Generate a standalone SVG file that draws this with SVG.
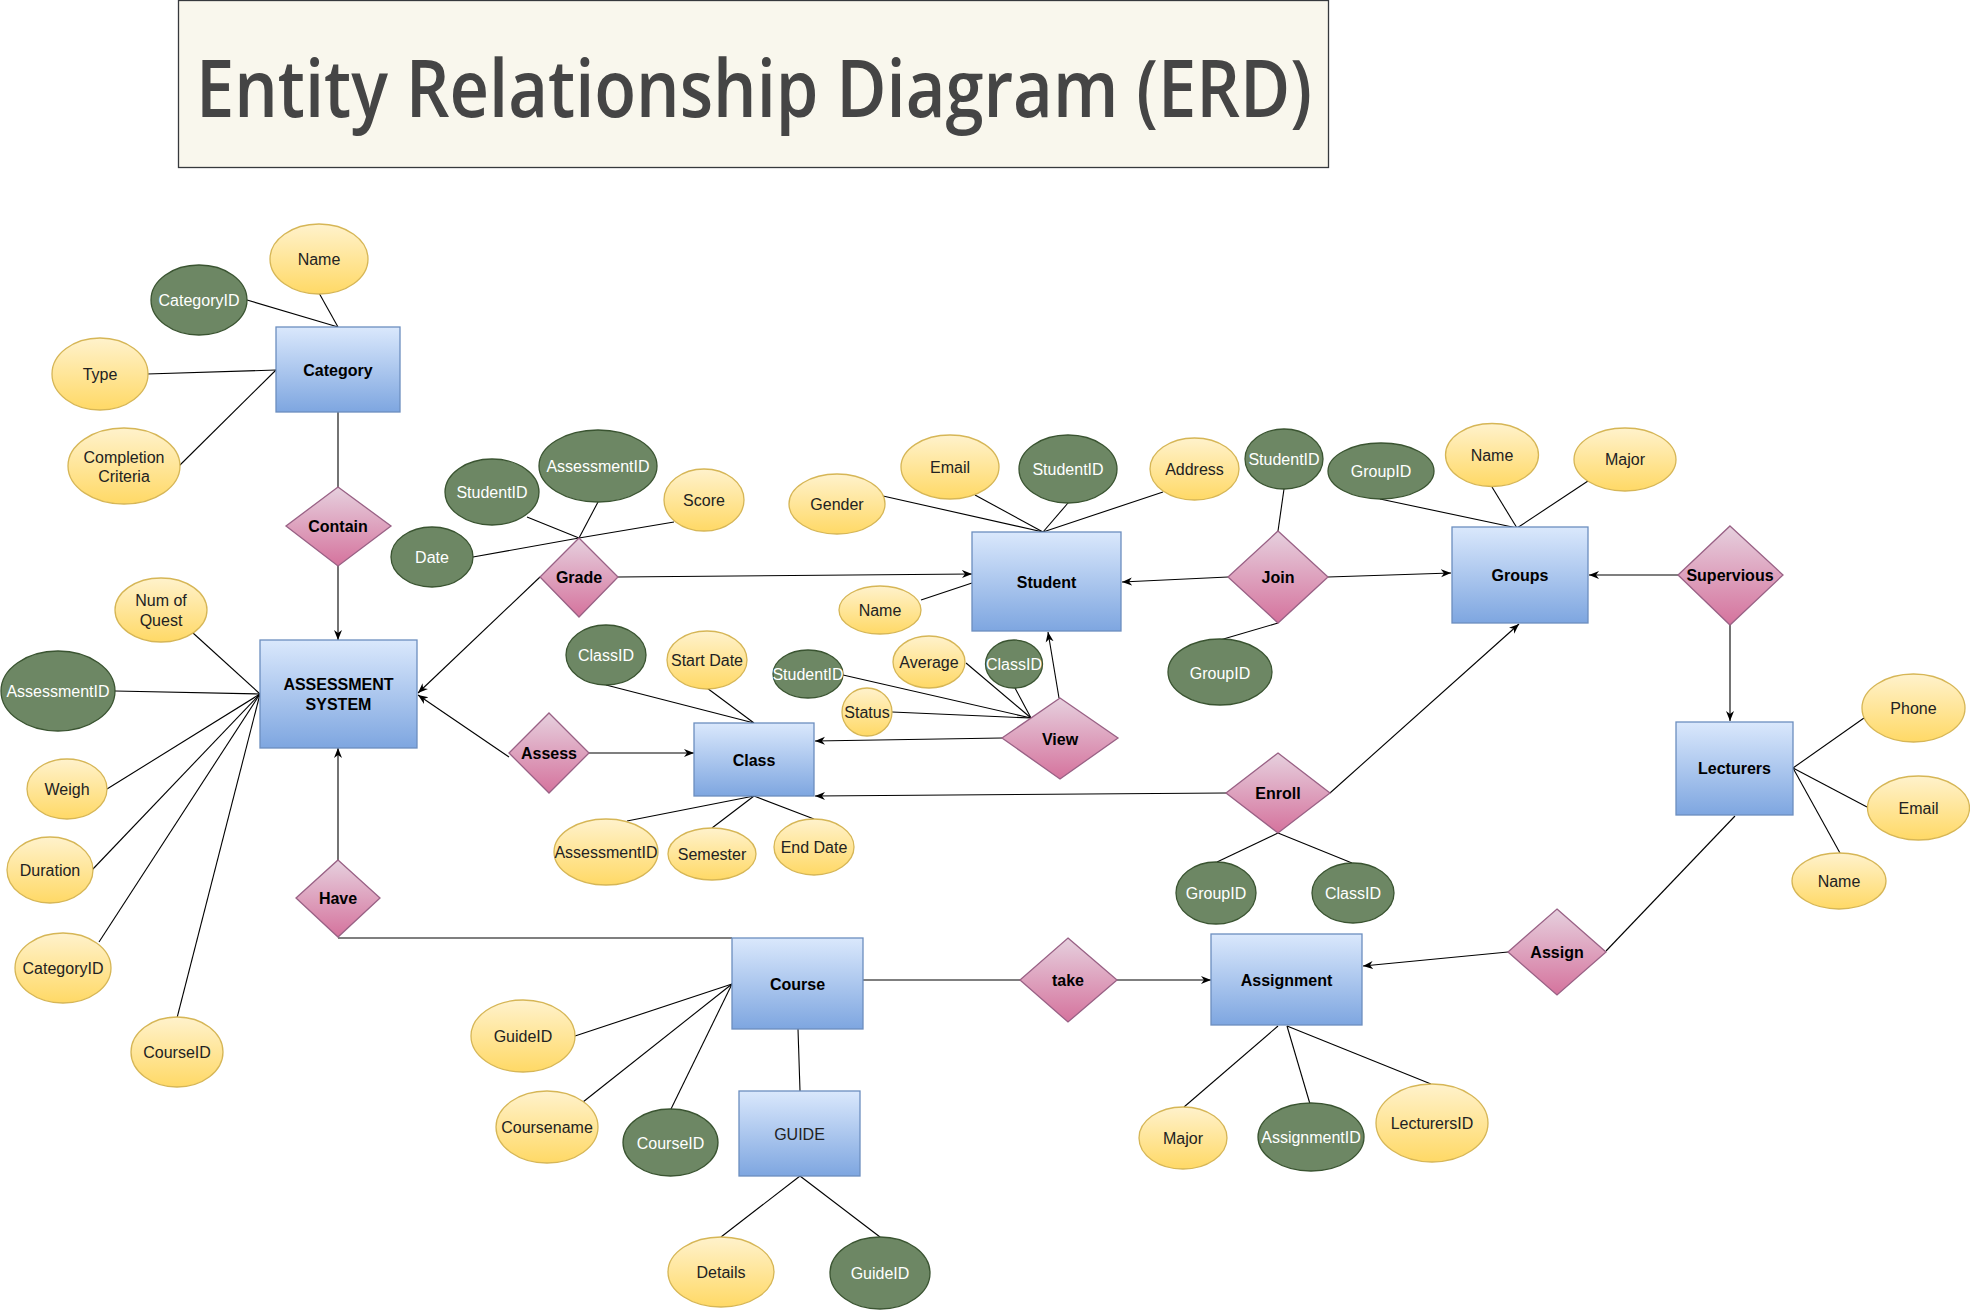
<svg xmlns="http://www.w3.org/2000/svg" width="1970" height="1311" viewBox="0 0 1970 1311">
<defs>
<linearGradient id="gBlue" x1="0" y1="0" x2="0" y2="1"><stop offset="0" stop-color="#dae8fc"/><stop offset="1" stop-color="#7ea6e0"/></linearGradient>
<linearGradient id="gPink" x1="0" y1="0" x2="0" y2="1"><stop offset="0" stop-color="#e6d0de"/><stop offset="1" stop-color="#d5739d"/></linearGradient>
<linearGradient id="gYellow" x1="0" y1="0" x2="0" y2="1"><stop offset="0" stop-color="#fff2cc"/><stop offset="1" stop-color="#ffd966"/></linearGradient>
<marker id="arr" viewBox="0 0 10 10" refX="10" refY="5" markerWidth="10" markerHeight="10" orient="auto" markerUnits="userSpaceOnUse"><path d="M0,1 L10,5 L0,9 L3,5 z" fill="#000"/></marker>
<style>
.ent{fill:url(#gBlue);stroke:#6c8ebf;stroke-width:1.3}
.rel{fill:url(#gPink);stroke:#996185;stroke-width:1.3}
.ya{fill:url(#gYellow);stroke:#d6b656;stroke-width:1.3}
.ga{fill:#6d8764;stroke:#3a5431;stroke-width:1.3}
text{font-family:"Liberation Sans",Arial,sans-serif;font-size:16px;text-anchor:middle;dominant-baseline:central}
.b{font-weight:bold;fill:#000}
.yt{fill:#222}
.gt{fill:#fff}
.c line,.c polyline{stroke:#000;stroke-width:1.1;fill:none}
.c .a{marker-end:url(#arr)}
</style>
</defs>
<rect width="1970" height="1311" fill="#fff"/>
<g id="title">
<rect x="178.5" y="0.5" width="1150" height="167" fill="#f9f7ed" stroke="#36393d" stroke-width="1.3"/>
<text x="754" y="117" style="font-family:'Open Sans','Noto Sans',sans-serif;font-size:80px;fill:#454545;font-weight:600;dominant-baseline:auto" textLength="1116" lengthAdjust="spacingAndGlyphs">Entity Relationship Diagram (ERD)</text>
</g>
<g id="connectors" class="c">
<line x1="247" y1="300" x2="338" y2="327"/>
<line x1="319" y1="293" x2="338" y2="327"/>
<line x1="147" y1="374" x2="276" y2="370"/>
<line x1="179" y1="466" x2="276" y2="370"/>
<line x1="338" y1="412" x2="338" y2="487"/>
<line class="a" x1="338" y1="566" x2="338" y2="640"/>
<line x1="193" y1="633" x2="260" y2="694"/>
<line x1="115" y1="691" x2="260" y2="694"/>
<line x1="107" y1="789" x2="260" y2="694"/>
<line x1="92" y1="870" x2="260" y2="694"/>
<line x1="99" y1="942" x2="260" y2="694"/>
<line x1="177" y1="1018" x2="260" y2="694"/>
<line class="a" x1="338" y1="860" x2="338" y2="748"/>
<polyline points="338,938 732,938"/>
<line x1="527" y1="517" x2="579" y2="538"/>
<line x1="598" y1="502" x2="579" y2="538"/>
<line x1="473" y1="557" x2="579" y2="538"/>
<line x1="674" y1="522" x2="579" y2="538"/>
<line class="a" x1="618" y1="577" x2="972" y2="574"/>
<line class="a" x1="540" y1="577" x2="418" y2="693"/>
<line class="a" x1="509" y1="757" x2="418" y2="695"/>
<line class="a" x1="589" y1="753" x2="694" y2="753"/>
<line x1="606" y1="685" x2="754" y2="723"/>
<line x1="707" y1="688" x2="754" y2="723"/>
<line x1="627" y1="821" x2="754" y2="796"/>
<line x1="712" y1="828" x2="754" y2="796"/>
<line x1="814" y1="819" x2="754" y2="796"/>
<line class="a" x1="1002" y1="738" x2="815" y2="741"/>
<line class="a" x1="1059" y1="698" x2="1048" y2="632"/>
<line x1="843" y1="675" x2="1031" y2="718"/>
<line x1="966" y1="663" x2="1031" y2="718"/>
<line x1="1015" y1="688" x2="1031" y2="718"/>
<line x1="892" y1="712" x2="1031" y2="718"/>
<line x1="883" y1="496" x2="1043" y2="532"/>
<line x1="975" y1="495" x2="1043" y2="532"/>
<line x1="1068" y1="503" x2="1043" y2="532"/>
<line x1="1163" y1="492" x2="1043" y2="532"/>
<line x1="921" y1="600" x2="972" y2="583"/>
<line x1="1284" y1="489" x2="1278" y2="531"/>
<line x1="1278" y1="623" x2="1220" y2="640"/>
<line class="a" x1="1228" y1="577" x2="1122" y2="582"/>
<line class="a" x1="1328" y1="577" x2="1451" y2="573"/>
<line x1="1380" y1="499" x2="1517" y2="528"/>
<line x1="1492" y1="487" x2="1517" y2="528"/>
<line x1="1588" y1="481" x2="1517" y2="528"/>
<line class="a" x1="1678" y1="575" x2="1589" y2="575"/>
<line class="a" x1="1730" y1="625" x2="1730" y2="721"/>
<line class="a" x1="1226" y1="793" x2="815" y2="796"/>
<line class="a" x1="1330" y1="793" x2="1519" y2="624"/>
<line x1="1278" y1="833" x2="1217" y2="862"/>
<line x1="1278" y1="833" x2="1352" y2="863"/>
<line x1="1793" y1="768" x2="1864" y2="718"/>
<line x1="1793" y1="768" x2="1867" y2="807"/>
<line x1="1793" y1="768" x2="1840" y2="853"/>
<line x1="1735" y1="816" x2="1606" y2="951"/>
<line class="a" x1="1508" y1="952" x2="1363" y2="966"/>
<line x1="1278" y1="1026" x2="1184" y2="1107"/>
<line x1="1287" y1="1026" x2="1310" y2="1104"/>
<line x1="1287" y1="1026" x2="1431" y2="1084"/>
<line x1="863" y1="980" x2="1020" y2="980"/>
<line class="a" x1="1117" y1="980" x2="1211" y2="980"/>
<line x1="732" y1="984" x2="575" y2="1036"/>
<line x1="732" y1="984" x2="583" y2="1102"/>
<line x1="732" y1="984" x2="671" y2="1109"/>
<line x1="798" y1="1029" x2="800" y2="1091"/>
<line x1="800" y1="1176" x2="721" y2="1237"/>
<line x1="800" y1="1176" x2="880" y2="1237"/>
</g>
<g id="n-category"><rect class="ent" x="276" y="327" width="124" height="85"/><text class="b" x="338" y="370">Category</text></g>
<g id="n-assessment"><rect class="ent" x="260" y="640" width="157" height="108"/><text class="b" x="338.5" y="684">ASSESSMENT</text><text class="b" x="338.5" y="704">SYSTEM</text></g>
<g id="n-student"><rect class="ent" x="972" y="532" width="149" height="99"/><text class="b" x="1046.5" y="582">Student</text></g>
<g id="n-groups"><rect class="ent" x="1452" y="527" width="136" height="96"/><text class="b" x="1520" y="575">Groups</text></g>
<g id="n-lecturers"><rect class="ent" x="1676" y="722" width="117" height="93"/><text class="b" x="1734.5" y="768">Lecturers</text></g>
<g id="n-class"><rect class="ent" x="694" y="723" width="120" height="73"/><text class="b" x="754" y="760">Class</text></g>
<g id="n-course"><rect class="ent" x="732" y="938" width="131" height="91"/><text class="b" x="797.5" y="984">Course</text></g>
<g id="n-guide"><rect class="ent" x="739" y="1091" width="121" height="85"/><text class="yt" x="799.5" y="1134">GUIDE</text></g>
<g id="n-assignment"><rect class="ent" x="1211" y="934" width="151" height="91"/><text class="b" x="1286.5" y="980">Assignment</text></g>

<g id="r-contain"><polygon class="rel" points="338,487 391,526 338,566 286,526"/><text class="b" x="338" y="526">Contain</text></g>
<g id="r-grade"><polygon class="rel" points="579,538 618,577 579,617 540,577"/><text class="b" x="579" y="577">Grade</text></g>
<g id="r-assess"><polygon class="rel" points="549,713 589,753 549,793 509,753"/><text class="b" x="549" y="753">Assess</text></g>
<g id="r-view"><polygon class="rel" points="1060,698 1118,738 1060,779 1002,738"/><text class="b" x="1060" y="739">View</text></g>
<g id="r-join"><polygon class="rel" points="1278,531 1328,577 1278,623 1228,577"/><text class="b" x="1278" y="577">Join</text></g>
<g id="r-supervious"><polygon class="rel" points="1730,526 1783,575 1730,625 1678,575"/><text class="b" x="1730" y="575">Supervious</text></g>
<g id="r-enroll"><polygon class="rel" points="1278,753 1330,793 1278,833 1226,793"/><text class="b" x="1278" y="793">Enroll</text></g>
<g id="r-have"><polygon class="rel" points="338,860 380,898 338,937 296,898"/><text class="b" x="338" y="898">Have</text></g>
<g id="r-take"><polygon class="rel" points="1068,938 1117,980 1068,1022 1020,980"/><text class="b" x="1068" y="980">take</text></g>
<g id="r-assign"><polygon class="rel" points="1557,909 1606,952 1557,995 1508,952"/><text class="b" x="1557" y="952">Assign</text></g>

<g id="a-cat-name"><ellipse class="ya" cx="319" cy="259" rx="49" ry="35"/><text class="yt" x="319" y="259">Name</text></g>
<g id="a-cat-id"><ellipse class="ga" cx="199" cy="300" rx="48" ry="35"/><text class="gt" x="199" y="300">CategoryID</text></g>
<g id="a-cat-type"><ellipse class="ya" cx="100" cy="374" rx="48" ry="36"/><text class="yt" x="100" y="374">Type</text></g>
<g id="a-cat-crit"><ellipse class="ya" cx="124" cy="466" rx="56" ry="38"/><text class="yt" x="124" y="457">Completion</text><text class="yt" x="124" y="476">Criteria</text></g>

<g id="a-as-num"><ellipse class="ya" cx="161" cy="610" rx="46" ry="32"/><text class="yt" x="161" y="600">Num of</text><text class="yt" x="161" y="620">Quest</text></g>
<g id="a-as-id"><ellipse class="ga" cx="58" cy="691" rx="57" ry="40"/><text class="gt" x="58" y="691">AssessmentID</text></g>
<g id="a-as-weigh"><ellipse class="ya" cx="67" cy="789" rx="40" ry="30"/><text class="yt" x="67" y="789">Weigh</text></g>
<g id="a-as-dur"><ellipse class="ya" cx="50" cy="870" rx="43" ry="33"/><text class="yt" x="50" y="870">Duration</text></g>
<g id="a-as-cat"><ellipse class="ya" cx="63" cy="968" rx="48" ry="35"/><text class="yt" x="63" y="968">CategoryID</text></g>
<g id="a-as-course"><ellipse class="ya" cx="177" cy="1052" rx="46" ry="35"/><text class="yt" x="177" y="1052">CourseID</text></g>

<g id="a-gr-sid"><ellipse class="ga" cx="492" cy="492" rx="47" ry="33"/><text class="gt" x="492" y="492">StudentID</text></g>
<g id="a-gr-aid"><ellipse class="ga" cx="598" cy="466" rx="59" ry="36"/><text class="gt" x="598" y="466">AssessmentID</text></g>
<g id="a-gr-score"><ellipse class="ya" cx="704" cy="500" rx="40" ry="31"/><text class="yt" x="704" y="500">Score</text></g>
<g id="a-gr-date"><ellipse class="ga" cx="432" cy="557" rx="41" ry="30"/><text class="gt" x="432" y="557">Date</text></g>

<g id="a-cl-id"><ellipse class="ga" cx="606" cy="655" rx="40" ry="30"/><text class="gt" x="606" y="655">ClassID</text></g>
<g id="a-cl-start"><ellipse class="ya" cx="707" cy="660" rx="40" ry="29"/><text class="yt" x="707" y="660">Start Date</text></g>
<g id="a-cl-aid"><ellipse class="ya" cx="606" cy="852" rx="52" ry="33"/><text class="yt" x="606" y="852">AssessmentID</text></g>
<g id="a-cl-sem"><ellipse class="ya" cx="712" cy="854" rx="44" ry="26"/><text class="yt" x="712" y="854">Semester</text></g>
<g id="a-cl-end"><ellipse class="ya" cx="814" cy="847" rx="40" ry="28"/><text class="yt" x="814" y="847">End Date</text></g>

<g id="a-vw-sid"><ellipse class="ga" cx="808" cy="674" rx="35" ry="24"/><text class="gt" x="808" y="674">StudentID</text></g>
<g id="a-vw-avg"><ellipse class="ya" cx="929" cy="662" rx="36" ry="26"/><text class="yt" x="929" y="662">Average</text></g>
<g id="a-vw-cid"><ellipse class="ga" cx="1014" cy="664" rx="28.5" ry="24"/><text class="gt" x="1014" y="664">ClassID</text></g>
<g id="a-vw-status"><ellipse class="ya" cx="867" cy="712" rx="25" ry="24"/><text class="yt" x="867" y="712">Status</text></g>

<g id="a-st-gender"><ellipse class="ya" cx="837" cy="504" rx="48" ry="30"/><text class="yt" x="837" y="504">Gender</text></g>
<g id="a-st-email"><ellipse class="ya" cx="950" cy="467" rx="49" ry="32"/><text class="yt" x="950" y="467">Email</text></g>
<g id="a-st-id"><ellipse class="ga" cx="1068" cy="469" rx="49" ry="34"/><text class="gt" x="1068" y="469">StudentID</text></g>
<g id="a-st-addr"><ellipse class="ya" cx="1194.5" cy="469" rx="44.5" ry="31"/><text class="yt" x="1194.5" y="469">Address</text></g>
<g id="a-st-name"><ellipse class="ya" cx="880" cy="610" rx="41" ry="24"/><text class="yt" x="880" y="610">Name</text></g>

<g id="a-jn-sid"><ellipse class="ga" cx="1284" cy="459" rx="39" ry="30"/><text class="gt" x="1284" y="459">StudentID</text></g>
<g id="a-jn-gid"><ellipse class="ga" cx="1220" cy="672" rx="52" ry="33"/><text class="gt" x="1220" y="673">GroupID</text></g>

<g id="a-gp-gid"><ellipse class="ga" cx="1381" cy="471" rx="53" ry="28"/><text class="gt" x="1381" y="471">GroupID</text></g>
<g id="a-gp-name"><ellipse class="ya" cx="1492" cy="455" rx="46.5" ry="31.5"/><text class="yt" x="1492" y="455">Name</text></g>
<g id="a-gp-major"><ellipse class="ya" cx="1625" cy="459.5" rx="51" ry="31.5"/><text class="yt" x="1625" y="459.5">Major</text></g>

<g id="a-lc-phone"><ellipse class="ya" cx="1913.5" cy="708" rx="51.5" ry="34"/><text class="yt" x="1913.5" y="708">Phone</text></g>
<g id="a-lc-email"><ellipse class="ya" cx="1918.5" cy="808" rx="51" ry="32"/><text class="yt" x="1918.5" y="808">Email</text></g>
<g id="a-lc-name"><ellipse class="ya" cx="1839" cy="881" rx="47" ry="28"/><text class="yt" x="1839" y="881">Name</text></g>

<g id="a-en-gid"><ellipse class="ga" cx="1216" cy="893" rx="40" ry="31"/><text class="gt" x="1216" y="893">GroupID</text></g>
<g id="a-en-cid"><ellipse class="ga" cx="1353" cy="893" rx="41" ry="30"/><text class="gt" x="1353" y="893">ClassID</text></g>

<g id="a-asg-major"><ellipse class="ya" cx="1183" cy="1138" rx="44" ry="31"/><text class="yt" x="1183" y="1138">Major</text></g>
<g id="a-asg-id"><ellipse class="ga" cx="1311" cy="1137" rx="53" ry="34"/><text class="gt" x="1311" y="1137">AssignmentID</text></g>
<g id="a-asg-lid"><ellipse class="ya" cx="1432" cy="1123" rx="56" ry="39"/><text class="yt" x="1432" y="1123">LecturersID</text></g>

<g id="a-co-gid"><ellipse class="ya" cx="523" cy="1036" rx="52" ry="36"/><text class="yt" x="523" y="1036">GuideID</text></g>
<g id="a-co-name"><ellipse class="ya" cx="547" cy="1127" rx="51" ry="36"/><text class="yt" x="547" y="1127">Coursename</text></g>
<g id="a-co-id"><ellipse class="ga" cx="670.5" cy="1142.5" rx="47.5" ry="33.5"/><text class="gt" x="670.5" y="1143">CourseID</text></g>

<g id="a-gd-det"><ellipse class="ya" cx="721" cy="1272" rx="53" ry="35"/><text class="yt" x="721" y="1272">Details</text></g>
<g id="a-gd-id"><ellipse class="ga" cx="880" cy="1273" rx="50" ry="36"/><text class="gt" x="880" y="1273">GuideID</text></g>
</svg>
